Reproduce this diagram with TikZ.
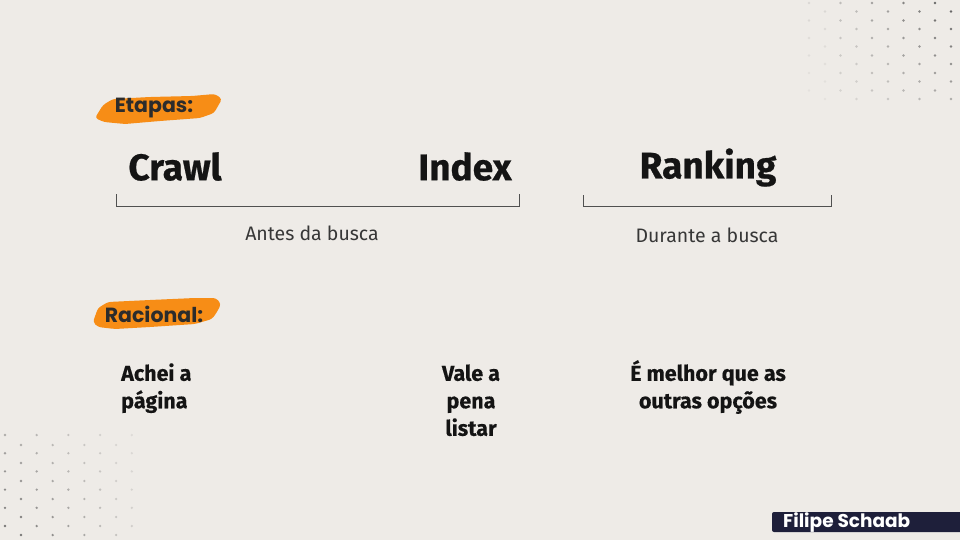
\documentclass[tikz,border=0pt]{standalone}
\usepackage{fontspec}
\setmainfont{Fira Sans}
\newfontfamily\labelfont{Poppins}
\definecolor{bgc}{RGB}{238,235,231}
\definecolor{brush}{RGB}{247,141,22}
\definecolor{navy}{RGB}{30,31,58}
\definecolor{ink}{RGB}{20,20,20}
\definecolor{linec}{RGB}{80,80,80}
\definecolor{dotc}{RGB}{80,80,80}
\begin{document}
\begin{tikzpicture}[x=1pt,y=-1pt,
  title/.style={font=\fontsize{37}{40}\selectfont\bfseries\addfontfeatures{FakeBold=0.6}, text=ink, inner sep=0pt},
  sub/.style={font=\fontsize{19.5}{23}\selectfont, text=ink!85, inner sep=0pt},
  reason/.style={font=\fontsize{21.5}{27.5}\selectfont\bfseries\addfontfeatures{FakeBold=0.4}, text=ink, inner sep=0pt, align=center},
  tag/.style={font=\labelfont\fontsize{20.5}{22}\selectfont\bfseries, text=ink!90, inner sep=0pt},
  bracket/.style={draw=linec, line width=0.9pt},
  dot/.style={fill=dotc}
]
\fill[bgc] (0,0) rectangle (960,540);
\useasboundingbox (0,0) rectangle (960,540);

% dot grids
\foreach \i in {0,...,5}{
  \foreach \j in {0,...,4}{
    \pgfmathsetmacro{\op}{max(0.05,(0.12+0.18*\j)*(1-0.1*\i))}
    \fill[dotc, opacity=\op] (809+31.5*\j,3+17.5*\i) circle (1.3);
    \fill[dotc, opacity=\op] (825+31.5*\j,11.5+17.5*\i) circle (1.3);
  }
}
\foreach \i in {0,...,5}{
  \foreach \j in {0,...,4}{
    \pgfmathsetmacro{\op}{max(0.05,(0.75-0.14*\j)*(0.55+0.09*\i))}
    \fill[dotc, opacity=\op] (5+31.7*\j,435+18.2*\i) circle (1.3);
  }
  \foreach \j in {0,...,3}{
    \pgfmathsetmacro{\op}{max(0.05,(0.75-0.16*\j)*(0.55+0.09*\i))}
    \fill[dotc, opacity=\op] (21+31.7*\j,445+18*\i) circle (1.3);
  }
}

% brush strokes
\fill[brush, rounded corners=3pt] (95,118) -- (103,105) -- (113,99) -- (150,97) -- (192,96) -- (215,94) -- (222,99) -- (218,106) -- (214,113) -- (200,118) -- (160,121) -- (125,124) -- (104,122) -- cycle;
\fill[brush, rounded corners=3pt] (93,322) -- (98,308) -- (108,302) -- (150,300) -- (195,298) -- (216,298) -- (221,304) -- (217,312) -- (212,319) -- (195,324) -- (150,327) -- (115,329) -- (98,327) -- cycle;

\node[tag] (etapas) at (154,108) {Etapas:};
\node[tag] (racional) at (154,314) {Racional:};

% titles
\node[title] (crawl) at (175,166.5) {Crawl};
\node[title] (index) at (465,166.5) {Index};
\node[title] (ranking) at (708,167.5) {Ranking};

% brackets
\coordinate (b1a) at (116,194);
\coordinate (b1b) at (519,194);
\coordinate (b2a) at (583,195);
\coordinate (b2b) at (831,195);
\draw[bracket] (b1a) -- (116,206) -- (519,206) -- (b1b);
\draw[bracket] (b2a) -- (583,206) -- (831,206) -- (b2b);

\node[sub] (antes) at (312,233) {Antes da busca};
\node[sub] (durante) at (707,235) {Durante a busca};

% reasons
\node[reason, align=left, anchor=north west] (achei) at (121,360) {\vphantom{É}Achei a\\página};
\node[reason, anchor=north] (vale) at (471,360) {\vphantom{É}Vale a\\pena\\listar};
\node[reason, anchor=north] (melhor) at (708,360) {É melhor que as\\outras opções};

% signature
\fill[navy, rounded corners=2pt] (772,512) rectangle (965,532);
\node[font=\labelfont\fontsize{18.5}{20}\selectfont\bfseries, text=white, inner sep=0pt, anchor=west] (sig) at (783,522.5) {Filipe Schaab};
\end{tikzpicture}
\end{document}
